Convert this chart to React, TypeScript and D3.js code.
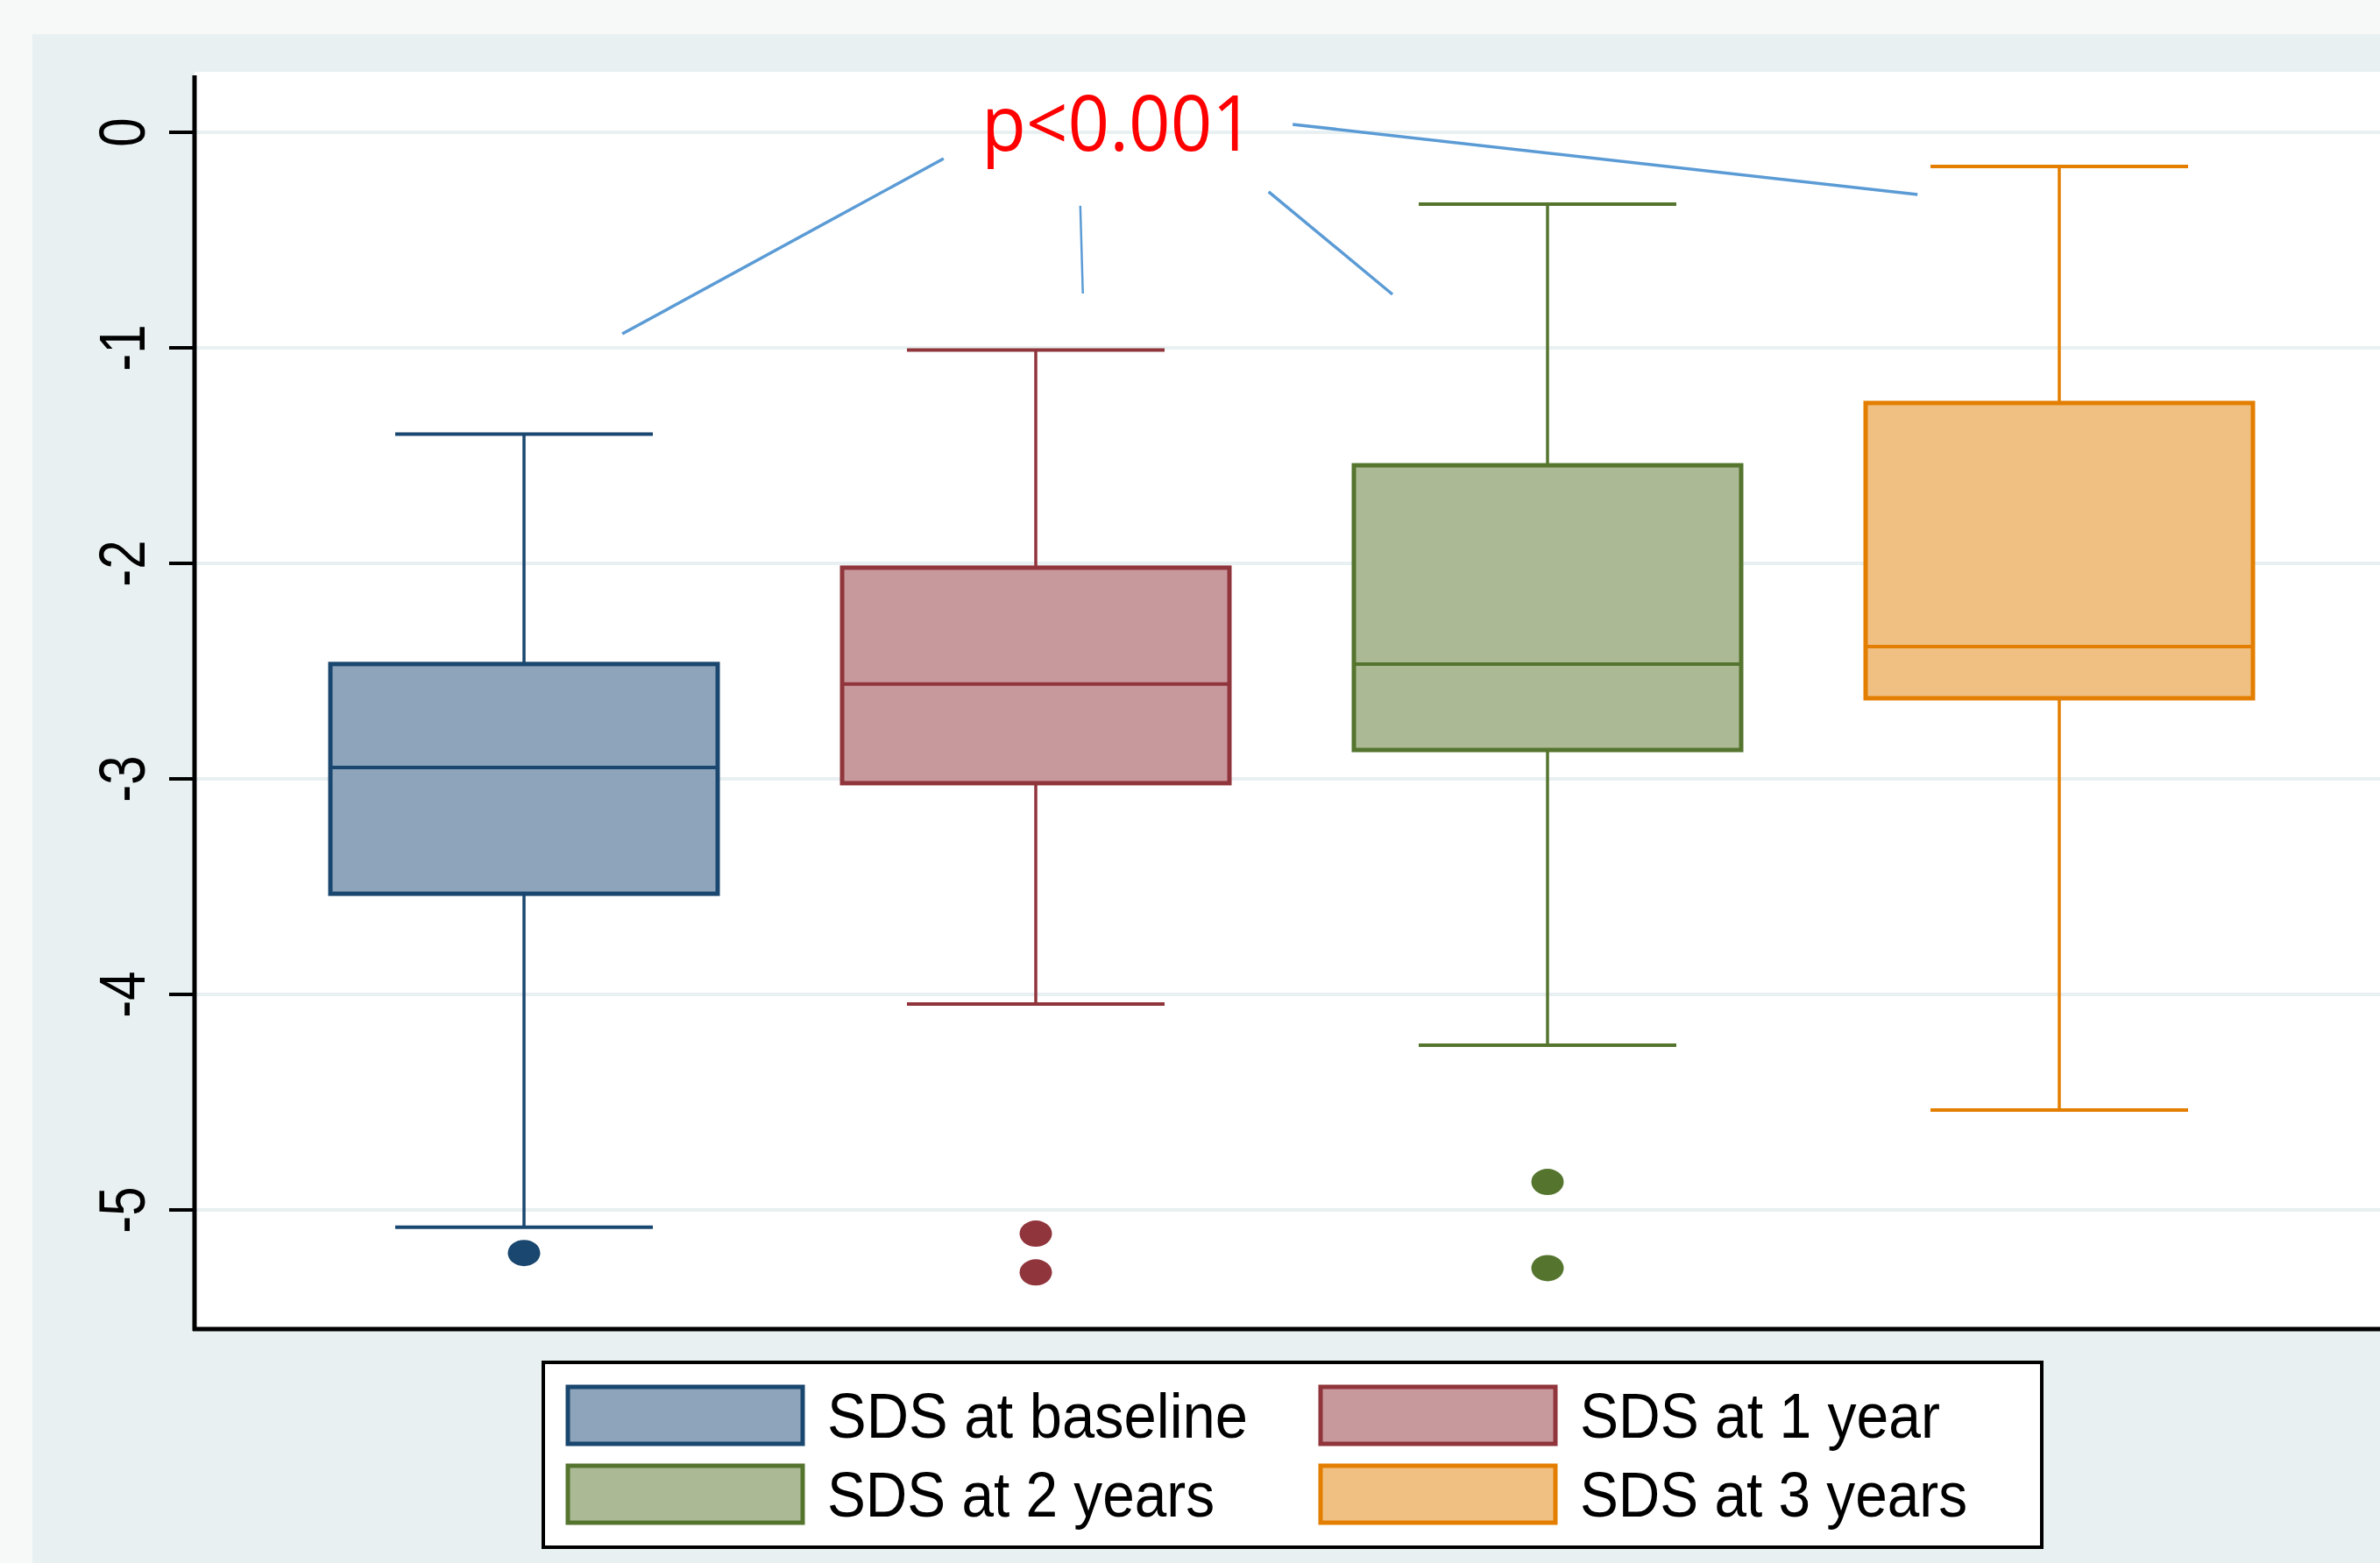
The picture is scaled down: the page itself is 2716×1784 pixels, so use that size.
import React from 'react';
import * as d3 from 'd3';

// ---- data ----
const categories = ['SDS at baseline', 'SDS at 1 year', 'SDS at 2 years', 'SDS at 3 years'];
const whiskerHigh = [-1.40, -1.01, -0.333, -0.159];
const q3 = [-2.467, -2.02, -1.545, -1.256];
const median = [-2.947, -2.56, -2.467, -2.386];
const q1 = [-3.533, -3.02, -2.866, -2.626];
const whiskerLow = [-5.08, -4.045, -4.236, -4.537];
const outliers: number[][] = [[-5.2], [-5.11, -5.29], [-4.87, -5.27], []];
const yTicks = [0, -1, -2, -3, -4, -5];
const pValueText = 'p<0.001';
// annotation connector lines in data space (category position, value)
const annStartX = [0.192, 1.087, 1.455, 1.502];
const annStartY = [-0.935, -0.341, -0.276, 0.037];
const annEndX = [0.82, 1.092, 1.697, 2.723];
const annEndY = [-0.122, -0.748, -0.752, -0.289];

// ---- styles ----
const strokeColors = ['#1a476f', '#90353b', '#55752f', '#e37e00'];
const fillColors = ['#8ea4ba', '#c8999c', '#abba95', '#f0c083'];
const legendTextLen = [480, 411, 442, 442];

const W = 2716;
const H = 1784;
const plotLeft = 222;
const plotTop = 82;
const plotBottom = 1517;

export default function App() {
  const y = d3.scaleLinear().domain([0, -5]).range([151, 1381]);
  const x = d3.scaleLinear().domain([0, 3]).range([598, 2350]);
  const boxW = 442;
  const capHalf = 147;

  const legendX = 620, legendY = 1555, legendW = 1710, legendH = 211;
  const colX = [648, 1507];
  const rowY = [1583, 1673];
  const swW = 268, swH = 65;

  return (
    <svg width={W} height={H} style={{ position: 'absolute', left: 0, top: 0 }}
      fontFamily="'Open Sans', 'Noto Sans', sans-serif">
      <rect x={0} y={0} width={W} height={H} fill="#f7f8f8" />
      <rect x={37} y={39} width={W - 37} height={H - 39} fill="#e8f0f2" />
      <rect x={plotLeft} y={plotTop} width={W - plotLeft} height={plotBottom - plotTop} fill="#ffffff" />

      {/* grid */}
      {yTicks.map((t) => (
        <line key={'g' + t} x1={plotLeft} x2={W} y1={y(t)} y2={y(t)} stroke="#e8f0f2" strokeWidth={4} />
      ))}

      {/* boxes */}
      {categories.map((c, i) => {
        const cx = x(i);
        const sc = strokeColors[i];
        return (
          <g key={c}>
            <line x1={cx} x2={cx} y1={y(whiskerHigh[i])} y2={y(q3[i])} stroke={sc} strokeWidth={3.5} />
            <line x1={cx} x2={cx} y1={y(q1[i])} y2={y(whiskerLow[i])} stroke={sc} strokeWidth={3.5} />
            <line x1={cx - capHalf} x2={cx + capHalf} y1={y(whiskerHigh[i])} y2={y(whiskerHigh[i])} stroke={sc} strokeWidth={4} />
            <line x1={cx - capHalf} x2={cx + capHalf} y1={y(whiskerLow[i])} y2={y(whiskerLow[i])} stroke={sc} strokeWidth={4} />
            <rect x={cx - boxW / 2} y={y(q3[i])} width={boxW} height={y(q1[i]) - y(q3[i])}
              fill={fillColors[i]} stroke={sc} strokeWidth={5} />
            <line x1={cx - boxW / 2} x2={cx + boxW / 2} y1={y(median[i])} y2={y(median[i])} stroke={sc} strokeWidth={4} />
            {outliers[i].map((o, k) => (
              <ellipse key={k} cx={cx} cy={y(o)} rx={18.5} ry={15} fill={sc} />
            ))}
          </g>
        );
      })}

      {/* axes */}
      <line x1={plotLeft} x2={plotLeft} y1={86} y2={plotBottom + 2} stroke="#000" strokeWidth={5} />
      <line x1={plotLeft - 2} x2={W} y1={plotBottom} y2={plotBottom} stroke="#000" strokeWidth={5} />
      {yTicks.map((t) => (
        <g key={'t' + t}>
          <line x1={193} x2={plotLeft} y1={y(t)} y2={y(t)} stroke="#000" strokeWidth={4} />
          <text transform={`translate(165,${y(t)}) scale(1.23,1) rotate(-90)`} textAnchor="middle"
            fontFamily="'Liberation Sans', Arial, sans-serif" fontSize={60} fill="#000">
            {String(t)}
          </text>
        </g>
      ))}

      {/* annotation */}
      {annStartX.map((sx, i) => (
        <line key={'a' + i} x1={x(sx)} y1={y(annStartY[i])} x2={x(annEndX[i])} y2={y(annEndY[i])}
          stroke="#5b9bd5" strokeWidth={i === 1 ? 2.5 : 3.5} />
      ))}
      <text x={1120} y={172} fontSize={87} fill="#ff0000" textLength={311} lengthAdjust="spacingAndGlyphs">
        {pValueText}
      </text>

      {/* legend */}
      <rect x={legendX} y={legendY} width={legendW} height={legendH} fill="#fff" stroke="#000" strokeWidth={4} />
      {categories.map((c, i) => {
        const col = i % 2;
        const row = Math.floor(i / 2);
        return (
          <g key={'l' + c}>
            <rect x={colX[col]} y={rowY[row]} width={swW} height={swH} fill={fillColors[i]}
              stroke={strokeColors[i]} strokeWidth={5} />
            <text x={colX[col] + 296} y={rowY[row] + 58} fontSize={72} fill="#000"
              fontFamily="'Liberation Sans', Arial, sans-serif"
              textLength={legendTextLen[i]} lengthAdjust="spacingAndGlyphs">{c}</text>
          </g>
        );
      })}
    </svg>
  );
}
